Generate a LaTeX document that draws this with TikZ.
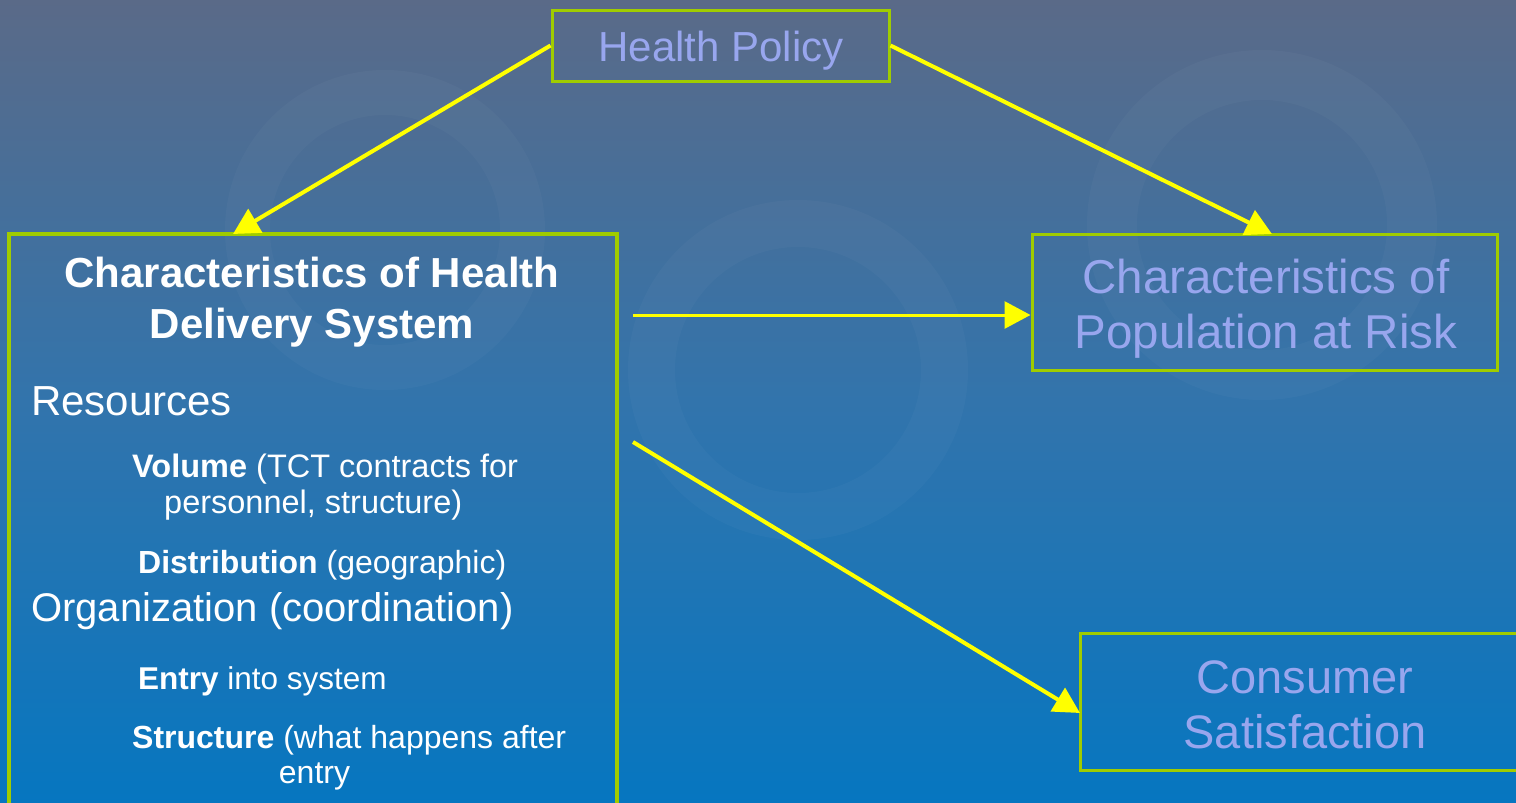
\documentclass[tikz,border=0pt]{standalone}
\usepackage{fontspec}
\setmainfont{Liberation Sans}
\usetikzlibrary{arrows.meta,shadings}
\definecolor{bgtop}{RGB}{90,106,136}
\definecolor{bgmid}{RGB}{50,116,172}
\definecolor{bgbot}{RGB}{6,118,192}
\definecolor{boxgreen}{RGB}{160,204,0}
\definecolor{peri}{RGB}{152,166,238}
\definecolor{arrowyellow}{RGB}{255,255,0}
\tikzset{
  box/.style={draw=boxgreen, line width=3pt, inner sep=0pt},
  bigbox/.style={draw=boxgreen, line width=4.5pt, inner sep=0pt},
  lbl/.style={inner sep=0pt, text=white},
  plbl/.style={inner sep=0pt, text=peri, align=center},
  conn/.style={draw=arrowyellow, line width=4pt, -{Triangle[length=26pt,width=27pt]}},
  ring/.style={fill=white, fill opacity=0.028, even odd rule},
}
\begin{document}
\begin{tikzpicture}[x=1pt,y=-1pt]
\useasboundingbox (0,0) rectangle (1516,803);
\clip (0,0) rectangle (1516,803);
% background
\shade[top color=bgtop, bottom color=bgbot, middle color=bgmid] (0,0) rectangle (1516,803);
% faint watermark rings
\path[ring] (798,370) circle[radius=170] (798,370) circle[radius=123];
\path[ring] (385,230) circle[radius=160] (385,230) circle[radius=115];
\path[ring] (1262,225) circle[radius=175] (1262,225) circle[radius=125];

% boxes
\node[box, minimum width=337pt, minimum height=71pt] (hp) at (720.5,45.5) {};
\node[bigbox, minimum width=608pt, minimum height=590pt] (sys) at (313,529) {};
\node[box, minimum width=465pt, minimum height=136pt] (pop) at (1264.5,302) {};
\node[box, minimum width=445pt, minimum height=137pt] (cons) at (1302.5,701.5) {};

% texts
\node[plbl, anchor=base, font=\fontsize{42}{50}\selectfont] (hpt) at (721,61) {Health Policy};

\node[lbl, anchor=base, font=\fontsize{42}{51}\selectfont\bfseries] (t1) at (312,287) {Characteristics of Health};
\node[lbl, anchor=base, font=\fontsize{42}{51}\selectfont\bfseries] (t2) at (312,338) {Delivery System};
\node[lbl, anchor=base west, font=\fontsize{42}{48}\selectfont] (res) at (31,415) {Resources};
\node[lbl, anchor=base west, font=\fontsize{32.5}{37}\selectfont] (vol) at (132,477) {\textbf{Volume} (TCT contracts for};
\node[lbl, anchor=base west, font=\fontsize{32.5}{37}\selectfont] (per) at (164,513) {personnel, structure)};
\node[lbl, anchor=base west, font=\fontsize{32}{37}\selectfont] (dis) at (138,573) {\textbf{Distribution} (geographic)};
\node[lbl, anchor=base west, font=\fontsize{40}{48}\selectfont] (org) at (31,621) {Organization (coordination)};
\node[lbl, anchor=base west, font=\fontsize{31.5}{37}\selectfont] (ent) at (138,689) {\textbf{Entry} into system};
\node[lbl, anchor=base west, font=\fontsize{32}{37}\selectfont] (str) at (132,748) {\textbf{Structure} (what happens after};
\node[lbl, anchor=base, font=\fontsize{32}{37}\selectfont] (ent2) at (314.5,783) {entry};

\node[plbl, anchor=base, font=\fontsize{47.5}{55}\selectfont] (p1) at (1266,293) {Characteristics of};
\node[plbl, anchor=base, font=\fontsize{47.5}{55}\selectfont] (p2) at (1266,348) {Population at Risk};
\node[plbl, anchor=base, font=\fontsize{47}{55}\selectfont] (c1) at (1305,693) {Consumer};
\node[plbl, anchor=base, font=\fontsize{47}{55}\selectfont] (c2) at (1305,748) {Satisfaction};

% connector end points
\coordinate (e1) at (233,234);
\coordinate (e2) at (1272,234);
\coordinate (s3) at (633,315);
\coordinate (s4) at (633,442);
\coordinate (e4) at (1080,713);

% connectors
\draw[conn] (hp.west) -- (e1);
\draw[conn] (hp.east) -- (e2);
\draw[conn, line width=3pt] (s3) -- (pop.west |- s3);
\draw[conn] (s4) -- (e4);
\end{tikzpicture}
\end{document}
